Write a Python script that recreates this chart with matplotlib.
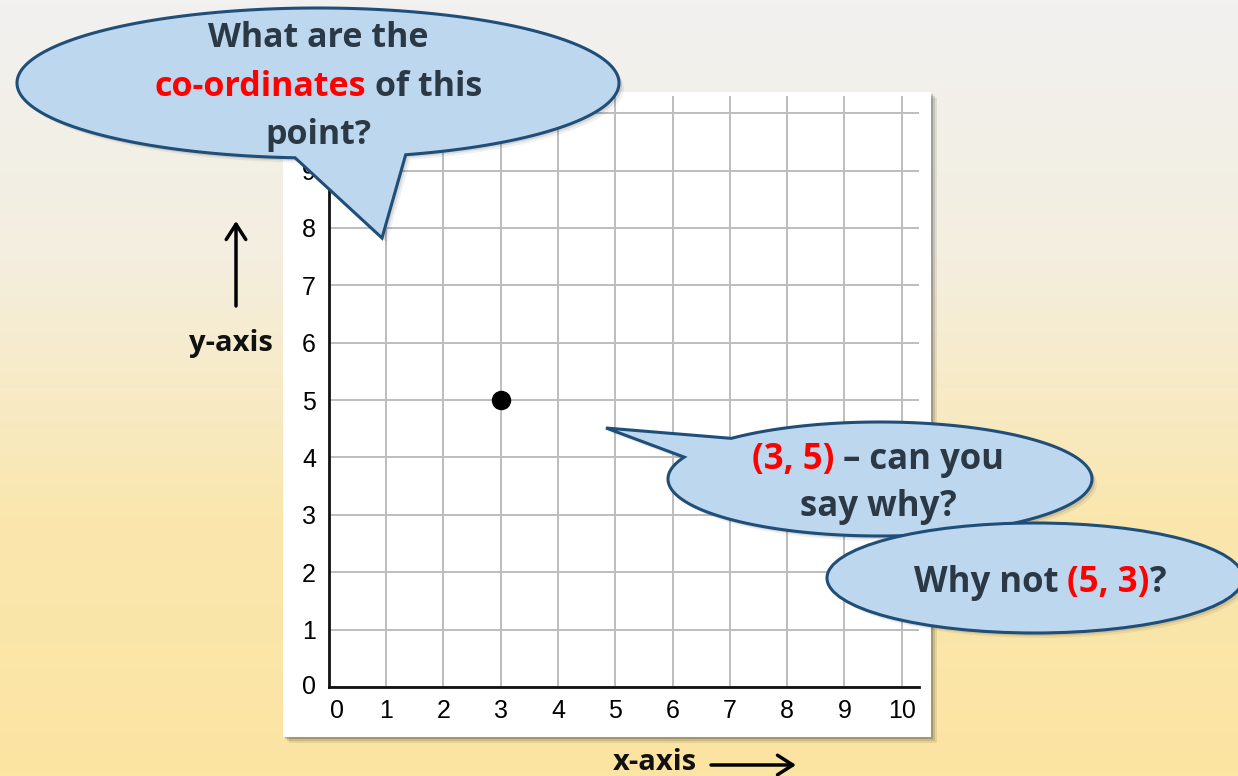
import numpy as np
import matplotlib
matplotlib.use('Agg')
import matplotlib.pyplot as plt
from matplotlib.patches import Polygon, Rectangle, Ellipse
from matplotlib.colors import LinearSegmentedColormap
from matplotlib.transforms import ScaledTranslation

# chart data
x_ticks = list(range(0, 11))
y_ticks = list(range(0, 11))
y_tick_labels = [str(v) for v in range(0, 10)] + ['']  # "10" sits under the bubble
point_x = [3]
point_y = [5]

DARK = '#2b3845'
RED = '#ff0000'

# speech bubble texts: (text, colour, space before)
q_lines = [
    [("What are the", DARK, False)],
    [("co-ordinates", RED, False), ("of this", DARK, True)],
    [("point?", DARK, False)],
]
a_lines = [
    [("(3, 5)", RED, False), ("\u2013 can you", DARK, True)],
    [("say why?", DARK, False)],
]
b_lines = [
    [("Why not", DARK, False), ("(5, 3)", RED, True), ("?", DARK, False)],
]

W, H = 1238, 776
fig = plt.figure(figsize=(W / 100, H / 100), dpi=100)

# background gradient
bg = fig.add_axes([0, 0, 1, 1], zorder=0)
cmap = LinearSegmentedColormap.from_list('bgc', ['#f1f1f0', '#f4eedf', '#fae7ae', '#fce4a2'])
grad = np.linspace(0, 1, 256).reshape(-1, 1)
bg.imshow(grad, aspect='auto', cmap=cmap, extent=[0, W, H, 0])
bg.set_xlim(0, W)
bg.set_ylim(H, 0)
bg.axis('off')

# white panel with a soft shadow
for off, al in [(6, 0.08), (4, 0.12), (2, 0.18)]:
    bg.add_patch(Rectangle((283 + off, 92 + off), 648, 645, color='black', alpha=al, lw=0))
bg.add_patch(Rectangle((283, 92), 648, 645, color='white', lw=0))

# the coordinate grid
ax = fig.add_axes([328.6 / W, (H - 687) / H, 590.4 / W, 591 / H], zorder=1)
ax.set_facecolor('none')
ax.set_xlim(0, 10.3)
ax.set_ylim(0, 10.3)
ax.set_xticks(x_ticks)
ax.set_yticks(y_ticks, y_tick_labels)
ax.grid(True, color='#bdbdbd', lw=1.4)
ax.set_axisbelow(True)
for s in ['top', 'right']:
    ax.spines[s].set_visible(False)
for s in ['left', 'bottom']:
    ax.spines[s].set_linewidth(2)
    ax.spines[s].set_color('#111111')
ax.tick_params(length=0, labelsize=18, pad=9)
for lab in ax.get_xticklabels() + ax.get_yticklabels():
    lab.set_family('Liberation Sans')
# the two zero labels sit a little off their ticks
xl0 = ax.xaxis.get_major_ticks()[0].label1
xl0.set_transform(xl0.get_transform() + ScaledTranslation(8 / 100, 0, fig.dpi_scale_trans))
yl0 = ax.yaxis.get_major_ticks()[0].label1
yl0.set_transform(yl0.get_transform() + ScaledTranslation(0, 2 / 100, fig.dpi_scale_trans))
ax.plot(point_x, point_y, 'o', color='black', ms=13, zorder=5, clip_on=False)

# overlay in pixel coordinates
ov = fig.add_axes([0, 0, 1, 1], zorder=2)
ov.set_xlim(0, W)
ov.set_ylim(H, 0)
ov.axis('off')
ov.patch.set_alpha(0)

FILL = '#bdd7ee'
EDGE = '#1f4e79'


def bubble_pts(cx, cy, a, b, base1, base2, tip):
    t1 = np.arctan2((base1[1] - cy) / b, (base1[0] - cx) / a) % (2 * np.pi)
    t2 = np.arctan2((base2[1] - cy) / b, (base2[0] - cx) / a) % (2 * np.pi)
    if t1 > t2:
        t1, t2 = t2, t1
    ts = np.linspace(t2, t1 + 2 * np.pi, 400)
    pts = np.column_stack([cx + a * np.cos(ts), cy + b * np.sin(ts)])
    return np.vstack([pts, [tip]])


def draw_shape(pts):
    for off, al in [(5, 0.06), (3, 0.1)]:
        ov.add_patch(Polygon(pts + off, closed=True, color='black', alpha=al, lw=0))
    ov.add_patch(Polygon(pts, closed=True, fc=FILL, ec=EDGE, lw=2.2, joinstyle='miter'))


renderer = fig.canvas.get_renderer()


def text_width(s, size):
    t = ov.text(0, 0, s, family='Open Sans', weight='bold', fontsize=size)
    w = t.get_window_extent(renderer).width
    t.remove()
    return w


def rich_line(x, y, parts, size):
    space = text_width('a a', size) - text_width('aa', size)
    texts, widths = [], []
    for s, c, sp in parts:
        t = ov.text(0, y, s, color=c, ha='left', va='center', family='Open Sans',
                    weight='bold', fontsize=size)
        texts.append(t)
        widths.append(t.get_window_extent(renderer).width + (space if sp else 0))
    cur = x - sum(widths) / 2
    for t, w, (s, c, sp) in zip(texts, widths, parts):
        if sp:
            cur += space
            w -= space
        t.set_x(cur)
        cur += w


# question bubble
draw_shape(bubble_pts(318, 83, 301, 75, (295, 158), (406, 155), (382, 238)))
for i, line in enumerate(q_lines):
    rich_line(318, 38 + i * 48.5, line, 24.5)

# answer bubble
draw_shape(bubble_pts(880, 479, 212, 57, (683, 457), (730, 438), (606, 428)))
for i, line in enumerate(a_lines):
    rich_line(878, 460 + i * 47, line, 25)

# second answer bubble
for off, al in [(5, 0.06), (3, 0.1)]:
    ov.add_patch(Ellipse((1035 + off, 578 + off), 416, 110, color='black', alpha=al, lw=0))
ov.add_patch(Ellipse((1035, 578), 416, 110, fc=FILL, ec=EDGE, lw=2.2))
for line in b_lines:
    rich_line(1040, 583, line, 25)

# axis names with arrows
arrow = dict(arrowstyle='->,head_length=0.5,head_width=0.32', lw=2.5, color='black',
             mutation_scale=22, shrinkA=0, shrinkB=0)
ov.text(231, 343, 'y-axis', ha='center', va='center', family='Open Sans', weight='bold',
        fontsize=21, color='#111111')
ov.annotate('', xy=(236, 221), xytext=(236, 306), arrowprops=arrow)
ov.text(655, 763, 'x-axis', ha='center', va='center', family='Open Sans', weight='bold',
        fontsize=21, color='#111111')
ov.annotate('', xy=(796, 765), xytext=(711, 765), arrowprops=arrow)

fig.savefig('out.png', dpi=100)
